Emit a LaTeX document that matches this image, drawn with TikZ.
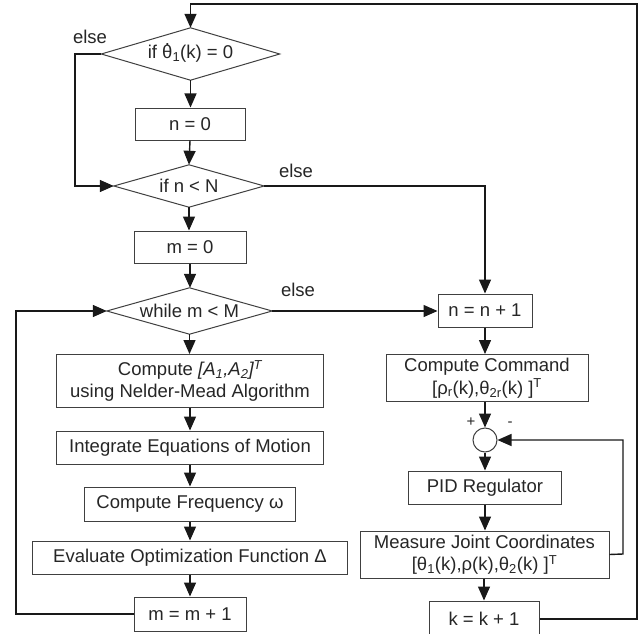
\documentclass[tikz,border=0pt]{standalone}
\usepackage{fontspec}
\setmainfont{Liberation Sans}
\usetikzlibrary{shapes.geometric,arrows.meta,calc}
\newcommand\lsub[1]{\textsubscript{#1}}
\newcommand\lsup[1]{\textsuperscript{#1}}
\newcommand\thetadot{\ooalign{θ\cr\hidewidth\raisebox{0.72em}{.}\hidewidth\cr}}
\begin{document}
\begin{tikzpicture}[x=1pt,y=-1pt,
  every node/.style={font=\fontsize{18.5}{22.5}\selectfont, text=black!85},
  stepbox/.style={draw=black!75, line width=1pt, rectangle, inner sep=0pt, align=center},
  decision/.style={rectangle, inner sep=0pt, align=center},
  dline/.style={draw=black!75, line width=1pt, line join=miter},
  sumpt/.style={draw=black!75, line width=1pt, circle, inner sep=0pt, minimum size=24pt},
  lbl/.style={inner sep=0pt},
  arr/.style={-{Triangle[length=14pt,width=12pt]}, line width=1.4pt, draw=black!90},
  ln/.style={line width=1.4pt, draw=black!90}]
\fill[white] (0,0) rectangle (643,634);
\useasboundingbox (0,0) rectangle (643,634);

% left column
\node[decision, minimum width=178pt, minimum height=52pt] (d1) at (190.5,54) {if \thetadot\lsub{1}(k) = 0};
\node[stepbox, minimum width=110pt, minimum height=32pt] (n0) at (190,124) {n = 0};
\node[decision, minimum width=150pt, minimum height=42pt] (d2) at (189,186) {if n {\char"3C} N};
\node[stepbox, minimum width=112pt, minimum height=32pt] (m0) at (190,247) {m = 0};
\node[decision, minimum width=165pt, minimum height=46pt] (d3) at (189.5,311) {while m {\char"3C} M};
\node[stepbox, minimum width=267pt, minimum height=53pt] (ca) at (190,381) {Compute \textit{[A\lsub{1},A\lsub{2}]\lsup{T}}\\using Nelder-Mead Algorithm};
\node[stepbox, minimum width=267pt, minimum height=33pt] (ie) at (190,447.5) {Integrate Equations of Motion};
\node[stepbox, minimum width=211pt, minimum height=34pt] (cf) at (190,504) {Compute Frequency ω};
\node[stepbox, minimum width=315pt, minimum height=33pt] (ev) at (190,557.5) {Evaluate Optimization Function Δ};
\node[stepbox, minimum width=112pt, minimum height=34pt] (mm) at (190,614) {m = m + 1};
\foreach \d in {d1,d2,d3}
  \draw[dline] (\d.north) -- (\d.east) -- (\d.south) -- (\d.west) -- cycle;

% right column
\node[stepbox, minimum width=94pt, minimum height=33pt] (nn) at (485,310.5) {n = n + 1};
\node[stepbox, minimum width=202pt, minimum height=47pt] (cc) at (487,378) {Compute Command\\{}[ρ\lsub{r}(k),θ\lsub{2r}(k) ]\lsup{T}};
\node[sumpt] (sum) at (485,440) {};
\node[stepbox, minimum width=153pt, minimum height=33pt] (pid) at (485,487.5) {PID Regulator};
\node[stepbox, minimum width=249pt, minimum height=47pt] (me) at (484.5,554.5) {Measure Joint Coordinates\\{}[θ\lsub{1}(k),ρ(k),θ\lsub{2}(k) ]\lsup{T}};
\node[stepbox, minimum width=110pt, minimum height=36pt] (kk) at (484,619) {k = k + 1};

% labels
\node[lbl] (e1) at (90,37) {else};
\node[lbl] (e2) at (296,171) {else};
\node[lbl] (e3) at (298,290) {else};
\node[lbl, font=\fontsize{15}{17}\selectfont] (plus) at (471,422) {+};
\node[lbl, font=\fontsize{15}{17}\selectfont] (minus) at (510,424) {-};

% coordinates
\coordinate (tr) at (637,4);
\coordinate (l1) at (75,54);
\coordinate (l3) at (16,614);
\coordinate (fb) at (623,554);

% connectors
\draw[arr] (kk.east) -| (tr) -| (d1.north);
\draw[arr] (d1.south) -- (d1.south |- n0.north);
\draw[arr] (n0.south) -- (d2.north);
\draw[arr] (d1.west) -- (l1) |- (d2.west);
\draw[arr] (d2.east) -| (nn.north);
\draw[arr] (d2.south) -- (d2.south |- m0.north);
\draw[arr] (m0.south) -- (m0.south |- d3.north);
\draw[arr] (d3.east) -- (d3.east -| nn.west);
\draw[arr] (d3.south) -- (d3.south |- ca.north);
\draw[arr] (ca.south) -- (ie.north);
\draw[arr] (ie.south) -- (cf.north);
\draw[arr] (cf.south) -- (ev.north);
\draw[arr] (ev.south) -- (mm.north);
\draw[arr] (mm.west) -- (l3) |- (d3.west);

\draw[arr] (nn.south) -- (nn.south |- cc.north);
\draw[arr] (cc.south -| sum.north) -- (sum.north);
\draw[arr] (sum.south) -- (sum.south |- pid.north);
\draw[arr] (pid.south) -- (pid.south |- me.north);
\draw[arr] (me.south -| kk.north) -- (kk.north);
\draw[arr] (me.east) -- (fb) |- (sum.east);
\end{tikzpicture}
\end{document}
